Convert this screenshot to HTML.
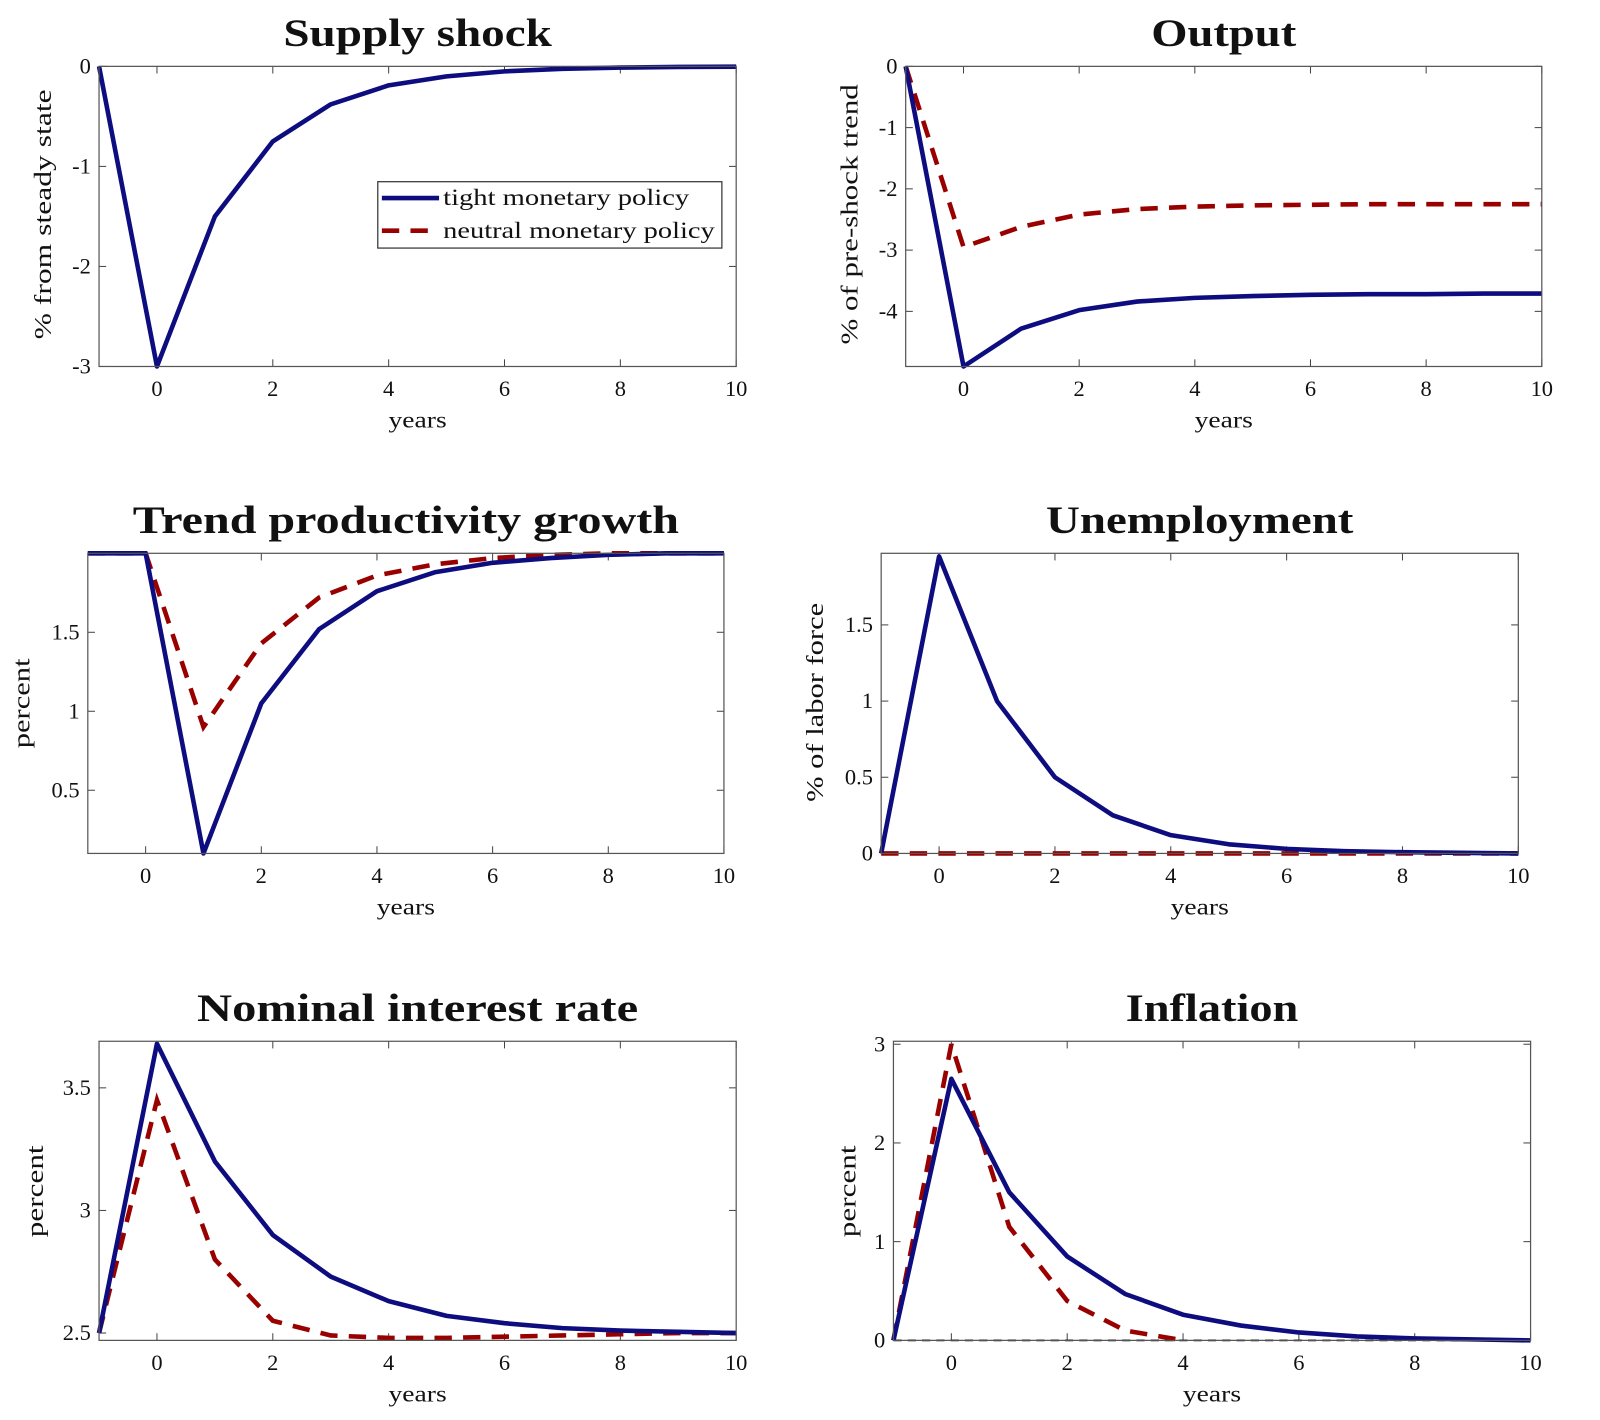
<!DOCTYPE html>
<html><head><meta charset="utf-8"><style>
html,body{margin:0;padding:0;background:#fff;}
svg{display:block;}
text{font-family:"Liberation Serif",serif;fill:#111;}
</style></head><body>
<svg id="fig" width="1600" height="1420" viewBox="0 0 1567 1391" preserveAspectRatio="none" xmlns="http://www.w3.org/2000/svg"></svg>
<script>
const years = [-1,0,1,2,3,4,5,6,7,8,9,10];
const xTicks = [0,2,4,6,8,10];
const supplyTight = [0,-3,-1.5,-0.75,-0.38,-0.19,-0.1,-0.05,-0.025,-0.012,-0.006,-0.003];
const outputTight = [0,-4.9,-4.28,-3.98,-3.84,-3.78,-3.75,-3.73,-3.72,-3.72,-3.71,-3.71];
const outputNeutral = [0,-2.95,-2.62,-2.42,-2.33,-2.29,-2.27,-2.26,-2.25,-2.25,-2.25,-2.25];
const prodTight = [2,2,0.1,1.05,1.52,1.76,1.88,1.94,1.97,1.99,2,2];
const prodNeutral = [2,2,0.9,1.43,1.72,1.86,1.93,1.97,1.99,2,2,2];
const unempTight = [0,1.95,1.0,0.5,0.25,0.12,0.06,0.03,0.015,0.008,0.004,0];
const unempNeutral = [0,0,0,0,0,0,0,0,0,0,0,0];
const rateTight = [2.5,3.68,3.2,2.9,2.73,2.63,2.57,2.54,2.52,2.51,2.505,2.5];
const rateNeutral = [2.5,3.45,2.8,2.55,2.49,2.48,2.48,2.485,2.49,2.495,2.5,2.5];
const inflTight = [0,2.65,1.5,0.85,0.47,0.26,0.15,0.08,0.04,0.02,0.01,0];
const inflNeutral = [0,3.0,1.15,0.4,0.1,0];
const yTicksSupply = [0,-1,-2,-3];
const yTicksOutput = [0,-1,-2,-3,-4];
const yTicksProd = [0.5,1,1.5];
const yTicksUnemp = [0,0.5,1,1.5];
const yTicksRate = [2.5,3,3.5];
const yTicksInfl = [0,1,2,3];

const NS="http://www.w3.org/2000/svg";
const svg=document.getElementById('fig');
function mk(tag,attrs,parent){const e=document.createElementNS(NS,tag);for(const k in attrs)e.setAttribute(k,attrs[k]);(parent||svg).appendChild(e);return e;}
const BLUE="#0d0d80", RED="#990000";

function panel(p){
  const g=mk('g',{});
  
  
  const X=v=>p.l+(v-(-1))/(11)*(p.r-p.l);
  const Y=v=>p.t+(p.ymax-v)/(p.ymax-p.ymin)*(p.b-p.t);
  const t=mk('text',{x:(p.l+p.r)/2,y:p.t-20,'text-anchor':'middle','font-size':38,'font-weight':'bold',textLength:p.tw,lengthAdjust:'spacingAndGlyphs'},g);
  t.textContent=p.title;
  
  
  xTicks.forEach(v=>{
    const x=X(v);
    mk('line',{x1:x,y1:p.b,x2:x,y2:p.b-7,stroke:'#444','stroke-width':1},g);
    mk('line',{x1:x,y1:p.t,x2:x,y2:p.t+7,stroke:'#444','stroke-width':1},g);
    const tl=mk('text',{x:x,y:p.b+29,'text-anchor':'middle','font-size':22},g);
    tl.textContent=v;
    
    
  });
  p.yt.forEach(v=>{
    const y=Y(v);
    mk('line',{x1:p.l,y1:y,x2:p.l+7,y2:y,stroke:'#444','stroke-width':1},g);
    mk('line',{x1:p.r,y1:y,x2:p.r-7,y2:y,stroke:'#444','stroke-width':1},g);
    const tl=mk('text',{x:p.l-8,y:y+7,'text-anchor':'end','font-size':22},g);
    tl.textContent=v;
    
    
  });
  const xl=mk('text',{x:(p.l+p.r)/2,y:p.b+60,'text-anchor':'middle','font-size':23,textLength:57,lengthAdjust:'spacingAndGlyphs'},g);
  xl.textContent='years';
  
  
  const cy=p.ylc;
  const yl=mk('text',{x:p.ylx,y:cy,'text-anchor':'middle','font-size':24,textLength:p.yw,lengthAdjust:'spacingAndGlyphs',transform:`rotate(-90 ${p.ylx} ${cy})`},g);
  yl.textContent=p.ylabel;
  
  
  if(p.zero){
    const z=mk('line',{x1:p.l,y1:Y(0),x2:p.r,y2:Y(0),stroke:'#000','stroke-width':1.8,'stroke-dasharray':'8 6'},g);
    
    
  }
  const ptsOf=arr=>arr.map((v,i)=>X(years[i])+','+Y(v)).join(' ');
  if(p.neutral){
    const n=mk('polyline',{points:ptsOf(p.neutral),fill:'none',stroke:RED,'stroke-width':4.5,'stroke-dasharray':'17 11'},g);
    
    
  }
  const s=mk('polyline',{points:ptsOf(p.tight),fill:'none',stroke:BLUE,'stroke-width':4.5,'stroke-linejoin':'round'},g);
  
  
  const box=mk('rect',{x:p.l,y:p.t,width:p.r-p.l,height:p.b-p.t,fill:'none',stroke:'#555','stroke-width':1.2},g);
  
  
}

panel({name:'supply-shock',title:'Supply shock',tw:263,l:97,r:721,t:65,b:359,ymin:-3,ymax:0,yt:yTicksSupply,ylabel:'% from steady state',yw:245,ylx:50,ylc:210,tight:supplyTight});
panel({name:'output',title:'Output',tw:142,l:887,r:1510,t:65,b:359,ymin:-4.9,ymax:0,yt:yTicksOutput,ylabel:'% of pre-shock trend',yw:255,ylx:840,ylc:210,tight:outputTight,neutral:outputNeutral});
panel({name:'trend-productivity',title:'Trend productivity growth',tw:535,l:86,r:709,t:542,b:836,ymin:0.1,ymax:2,yt:yTicksProd,ylabel:'percent',yw:88,ylx:29,ylc:689,tight:prodTight,neutral:prodNeutral});
panel({name:'unemployment',title:'Unemployment',tw:301,l:863,r:1487,t:542,b:836,ymin:0,ymax:1.97,yt:yTicksUnemp,ylabel:'% of labor force',yw:195,ylx:806,ylc:688,tight:unempTight,neutral:unempNeutral});
panel({name:'nominal-interest-rate',title:'Nominal interest rate',tw:432,l:97,r:721,t:1020,b:1313,ymin:2.47,ymax:3.69,yt:yTicksRate,ylabel:'percent',yw:90,ylx:42,ylc:1167,tight:rateTight,neutral:rateNeutral});
panel({name:'inflation',title:'Inflation',tw:169,l:875,r:1499,t:1020,b:1313,ymin:0,ymax:3.03,yt:yTicksInfl,ylabel:'percent',yw:90,ylx:838,ylc:1167,tight:inflTight,neutral:inflNeutral,zero:true});

// legend
const lg=mk('g',{});


mk('rect',{x:370,y:178,width:337,height:65,fill:'#fff',stroke:'#333','stroke-width':1.2},lg);
mk('line',{x1:374,y1:194,x2:430,y2:194,stroke:BLUE,'stroke-width':4.5},lg);
mk('line',{x1:374,y1:226,x2:430,y2:226,stroke:RED,'stroke-width':4.5,'stroke-dasharray':'17 11'},lg);
const l1=mk('text',{x:434,y:201,'font-size':23,textLength:241,lengthAdjust:'spacingAndGlyphs'},lg);
l1.textContent='tight monetary policy';


const l2=mk('text',{x:434,y:233,'font-size':23,textLength:266,lengthAdjust:'spacingAndGlyphs'},lg);
l2.textContent='neutral monetary policy';


</script>
</body></html>
